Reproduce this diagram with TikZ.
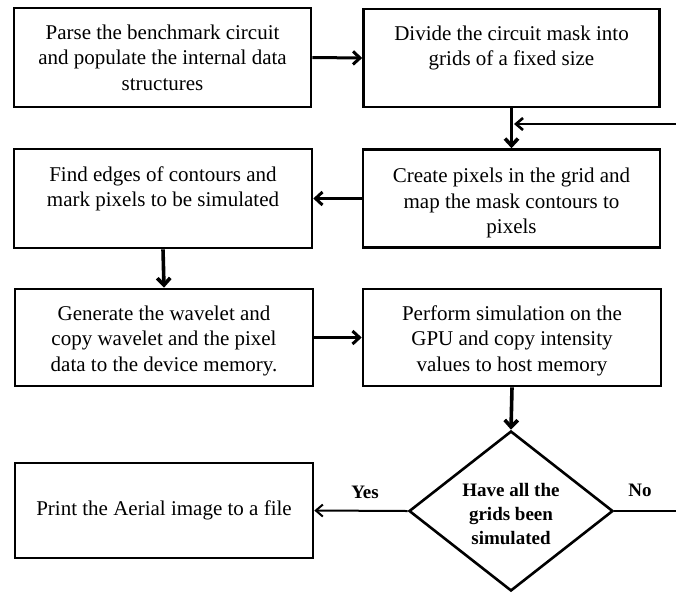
\documentclass[tikz,border=0pt]{standalone}
\usepackage{fontspec}
\setmainfont{Liberation Serif}
\usetikzlibrary{arrows.meta,shapes.geometric}

\begin{document}
\begin{tikzpicture}[x=1pt,y=-1pt,
  box/.style={draw, line width=2.6pt, inner sep=0pt},
  txt/.style={align=center, inner sep=0pt, font=\fontsize{21}{25.3}\selectfont},
  boldtxt/.style={align=center, inner sep=0pt, font=\bfseries\fontsize{19}{24}\selectfont},
  flow/.style={line width=3pt, -{Straight Barb[length=7pt,width=13pt]}},
  thinflow/.style={line width=2pt, -{Straight Barb[length=7pt,width=12pt]}},
]
\useasboundingbox (0,0) rectangle (676,595);

% process boxes
\node[box, minimum width=297pt, minimum height=99pt] (b1) at (162.5,57.5) {};
\node[box, minimum width=296pt, minimum height=98pt] (b2) at (511.5,58) {};
\node[box, minimum width=298pt, minimum height=99pt] (b3) at (163,198.5) {};
\node[box, minimum width=297pt, minimum height=98pt] (b4) at (511.5,198.5) {};
\node[box, minimum width=298pt, minimum height=97pt] (b5) at (164,337.5) {};
\node[box, minimum width=298pt, minimum height=97pt] (b6) at (512,337.5) {};
\node[box, minimum width=298pt, minimum height=95pt] (b7) at (164,510.5) {};

% decision
\node[draw, line width=2.6pt, shape=diamond, inner sep=0pt,
      minimum width=204pt, minimum height=160pt] (dec) at (511,511) {};

% box texts, set from the top of each box
\node[txt, anchor=north] (t1) at ([yshift=-18pt]b1.north)
  {Parse the benchmark circuit\\and populate the internal data\\structures};
\node[txt, anchor=north] (t2) at ([yshift=-18pt]b2.north)
  {Divide the circuit mask into\\grids of a fixed size};
\node[txt, anchor=north] (t3) at ([yshift=-19pt]b3.north)
  {Find edges of contours and\\mark pixels to be simulated};
\node[txt, anchor=north] (t4) at ([yshift=-20pt]b4.north)
  {Create pixels in the grid and\\map the mask contours to\\pixels};
\node[txt, anchor=north] (t5) at ([yshift=-18pt]b5.north)
  {Generate the wavelet and\\copy wavelet and the pixel\\data to the device memory.};
\node[txt, anchor=north] (t6) at ([yshift=-18pt]b6.north)
  {Perform simulation on the\\GPU and copy intensity\\values to host memory};
\node[txt] (t7) at (b7.center) {Print the Aerial image to a file};
\node[boldtxt] (td) at (511,514) {Have all the\\grids been\\simulated};

% branch labels
\node[boldtxt] (yes) at (365,492) {Yes};
\node[boldtxt] (no) at (640,490) {No};

% loop-back path
\coordinate (fbR) at (682,511);
\coordinate (fbJ) at (514,124);

% connectors
\draw[flow] (b1.east) -- (b2.west);
\draw[flow, line width=3.6pt] (b2.south) -- (b4.north);
\draw[flow] (b4.west) -- (b3.east);
\draw[flow, line width=3.6pt] (b3.south) -- (b5.north);
\draw[flow] (b5.east) -- (b6.west);
\draw[flow, line width=3.6pt] (b6.south) -- (dec.north);
\draw[thinflow] (dec.west) -- (b7.east);
\draw[line width=2.4pt] (dec.east) -- (fbR);
\draw[thinflow, line width=2.6pt] (fbR) |- (fbJ);
\end{tikzpicture}
\end{document}
